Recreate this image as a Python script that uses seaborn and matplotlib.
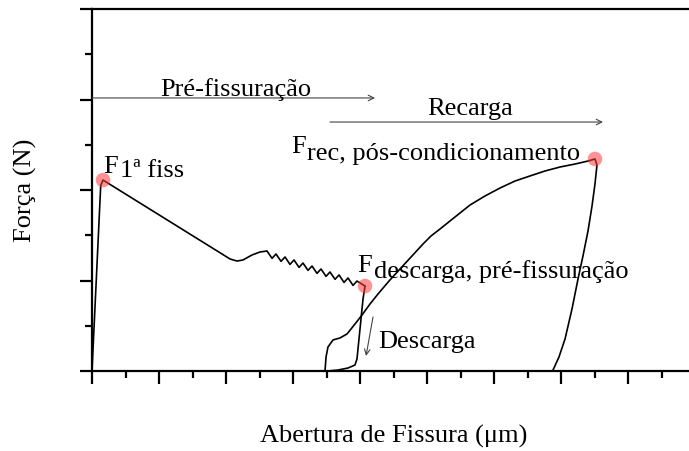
import numpy as np
import pandas as pd
import matplotlib
matplotlib.use("Agg")
import matplotlib.pyplot as plt
from matplotlib.ticker import MultipleLocator, NullFormatter
import seaborn as sns

# Load path before the first crack, the first crack and the softening branch
# (x: crack opening, y: force, both in tick units)
pre_x = [0.0, 0.13, 0.164, 2.060, 2.164, 2.254, 2.388, 2.507, 2.612,
         2.687, 2.746, 2.821, 2.881, 2.955, 3.015, 3.090, 3.149, 3.224, 3.284,
         3.358, 3.418, 3.493, 3.552, 3.627, 3.687, 3.761, 3.821, 3.896, 3.955,
         4.075]
pre_y = [0.0, 2.05, 2.11, 1.238, 1.215, 1.227, 1.282, 1.315, 1.326,
         1.245, 1.293, 1.212, 1.260, 1.178, 1.227, 1.145, 1.193, 1.112, 1.160,
         1.079, 1.127, 1.046, 1.094, 1.013, 1.061, 0.979, 1.028, 0.946, 0.994,
         0.939]

# Unloading branch
unl_x = [4.075, 4.045, 4.000, 3.955, 3.925, 3.821, 3.672, 3.522]
unl_y = [0.939, 0.796, 0.464, 0.133, 0.066, 0.033, 0.011, 0.0]

# Reloading branch up to the post-conditioning peak and the final drop
rel_x = [3.478, 3.493, 3.522, 3.597, 3.701, 3.806, 3.925, 4.030, 4.149, 4.269,
         4.433, 4.597, 4.776, 4.940, 5.060, 5.194, 5.418, 5.642, 5.866, 6.090,
         6.313, 6.537, 6.761, 6.985, 7.209, 7.403, 7.507, 7.537, 7.507, 7.463,
         7.403, 7.328, 7.254, 7.164, 7.060, 6.970, 6.881]
rel_y = [0.0, 0.155, 0.265, 0.343, 0.365, 0.409, 0.519, 0.619, 0.740, 0.851,
         0.994, 1.127, 1.271, 1.403, 1.492, 1.569, 1.702, 1.834, 1.934, 2.022,
         2.099, 2.155, 2.210, 2.254, 2.287, 2.320, 2.343, 2.276, 2.066, 1.823,
         1.547, 1.271, 1.017, 0.685, 0.354, 0.155, 0.011]

# Characteristic forces
key_x = [0.164, 4.075, 7.507]
key_y = [2.11, 0.939, 2.343]

sns.set_style("ticks")
plt.rcParams["font.family"] = ["Liberation Serif", "DejaVu Serif"]
plt.rcParams["text.color"] = "black"

W, H = 689, 452
fig = plt.figure(figsize=(W / 100, H / 100), dpi=100)
ax = fig.add_axes([92 / W, (H - 372) / H, 9.5 * 67 / W, 362 / H])

line_kw = dict(color="black", linewidth=1.2, sort=False, estimator=None, ax=ax, legend=False)
sns.lineplot(data=pd.DataFrame({"x": pre_x, "y": pre_y}), x="x", y="y", **line_kw)
sns.lineplot(data=pd.DataFrame({"x": unl_x, "y": unl_y}), x="x", y="y", **line_kw)
sns.lineplot(data=pd.DataFrame({"x": rel_x, "y": rel_y}), x="x", y="y", **line_kw)
sns.scatterplot(x=key_x, y=key_y, ax=ax, s=110, color="#ff3b3b", alpha=0.55,
                edgecolor="none", zorder=5, legend=False)

ax.set_xlim(0, 9.5)
ax.set_ylim(0, 4)
ax.xaxis.set_major_locator(MultipleLocator(1))
ax.xaxis.set_minor_locator(MultipleLocator(0.5))
ax.yaxis.set_major_locator(MultipleLocator(1))
ax.yaxis.set_minor_locator(MultipleLocator(0.5))
ax.xaxis.set_major_formatter(NullFormatter())
ax.yaxis.set_major_formatter(NullFormatter())
ax.tick_params(which="major", direction="out", length=9, width=1.6, colors="black")
ax.tick_params(which="minor", direction="out", length=5, width=1.6, colors="black")
ax.tick_params(top=False, right=False, which="both")
for side in ["left", "bottom", "top", "right"]:
    ax.spines[side].set_linewidth(1.6)
    ax.spines[side].set_color("black")
ax.set_xlabel("")
ax.set_ylabel("")

fs = 19
txt = dict(fontsize=fs, ha="left", va="baseline", color="black")

# Stage arrows
arrow_kw = dict(arrowstyle="->", color="#444444", lw=0.8, shrinkA=0, shrinkB=0)
ax.annotate("", xy=(4.224, 3.017), xytext=(0.0, 3.017), arrowprops=arrow_kw)
ax.text(1.015, 3.050, "Pré-fissuração", **txt)
ax.annotate("", xy=(7.627, 2.751), xytext=(3.552, 2.751), arrowprops=arrow_kw)
ax.text(5.0, 2.840, "Recarga", **txt)
ax.annotate("", xy=(4.090, 0.166), xytext=(4.194, 0.597), arrowprops=arrow_kw)
ax.text(4.269, 0.265, "Descarga", **txt)

# Force labels
ax.text(0.164, 2.199, "F", **txt)
ax.text(0.418, 2.155, "1ª fiss", **txt)
ax.text(3.955, 1.105, "F", **txt)
ax.text(4.209, 1.039, "descarga, pré-fissuração", **txt)
ax.text(2.970, 2.420, "F", **txt)
ax.text(3.209, 2.343, "rec, pós-condicionamento", **txt)

fig.text(394 / W, 1 - 443 / H, "Abertura de Fissura (μm)", fontsize=fs,
         ha="center", va="baseline")
fig.text(25 / W, 1 - 190 / H, "Força (N)", fontsize=fs, rotation=90,
         ha="center", va="center")

fig.savefig("out.png", dpi=100)
